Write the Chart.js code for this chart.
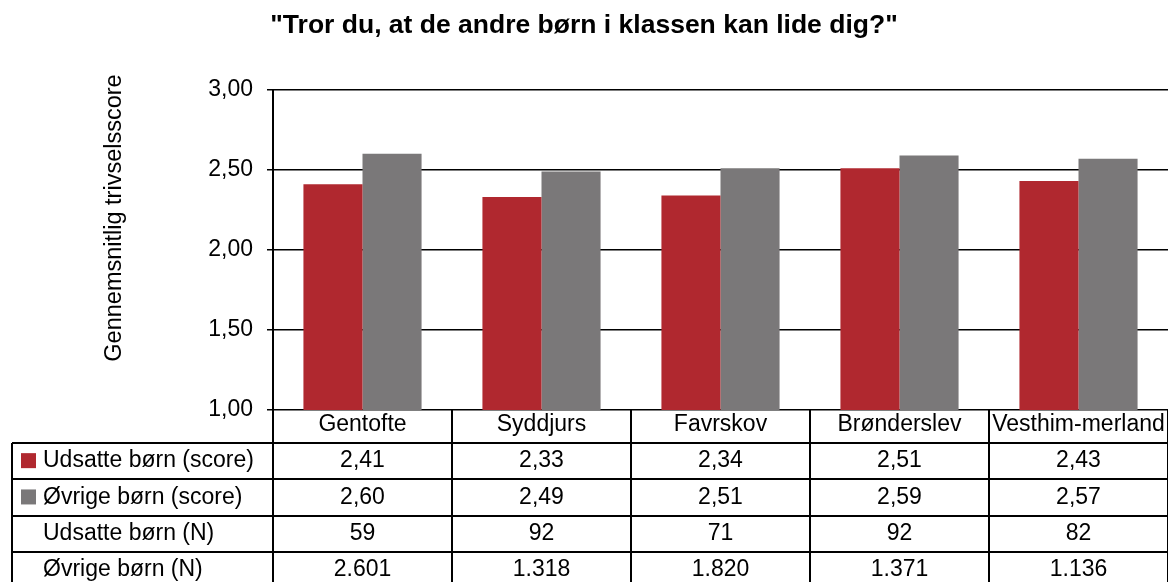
<!DOCTYPE html>
<html lang="da">
<head>
<meta charset="utf-8">
<title>Trivsel</title>
<script src="https://cdn.jsdelivr.net/npm/chart.js@4"></script>
<style>
  html, body { margin: 0; padding: 0; background: #fff; }
  #wrap { width: 1168px; height: 582px; }
</style>
</head>
<body>
<div id="wrap"><canvas id="graf"></canvas></div>
<script>
const kommuner = ['Gentofte', 'Syddjurs', 'Favrskov', 'Brønderslev', 'Vesthim-merland'];
const udsatteScore = [2.41, 2.33, 2.34, 2.51, 2.43];
const oevrigeScore = [2.60, 2.49, 2.51, 2.59, 2.57];
const udsatteN = [59, 92, 71, 92, 82];
const oevrigeN = [2601, 1318, 1820, 1371, 1136];
const yTicks = [1.00, 1.50, 2.00, 2.50, 3.00];

const FONT = "'Liberation Sans', Arial, sans-serif";
const ROED = '#b0282f';
const GRAA = '#7a7879';

const komma = v => v.toFixed(2).replace('.', ',');
const tusind = v => String(v).replace(/\B(?=(\d{3})+(?!\d))/g, '.');

// tabellen under grafen + y-aksens titel
const tabelPlugin = {
  id: 'tabel',
  afterDraw(chart) {
    const ctx = chart.ctx;
    const area = chart.chartArea;
    const xs = chart.scales.x;
    const halv = (xs.getPixelForValue(1) - xs.getPixelForValue(0)) / 2;
    const graenser = kommuner.map((k, i) => xs.getPixelForValue(i) - halv);
    graenser.push(xs.getPixelForValue(kommuner.length - 1) + halv);

    const venstre = 12;
    const foersteRaekke = area.bottom + 33;
    const raekkeH = 36.3;
    const bund = chart.height;

    ctx.save();
    ctx.strokeStyle = '#000';
    ctx.lineWidth = 2;

    // lodrette linjer
    graenser.forEach(x => {
      ctx.beginPath();
      ctx.moveTo(Math.round(x), area.bottom);
      ctx.lineTo(Math.round(x), bund);
      ctx.stroke();
    });
    ctx.beginPath();
    ctx.moveTo(venstre, foersteRaekke);
    ctx.lineTo(venstre, bund);
    ctx.stroke();

    // vandrette linjer
    for (let r = 0; r < 4; r++) {
      const y = Math.round(foersteRaekke + r * raekkeH);
      ctx.beginPath();
      ctx.moveTo(venstre, y);
      ctx.lineTo(graenser[graenser.length - 1], y);
      ctx.stroke();
    }

    const raekker = [
      { navn: 'Udsatte børn (score)', farve: ROED, vaerdier: udsatteScore.map(komma) },
      { navn: 'Øvrige børn (score)', farve: GRAA, vaerdier: oevrigeScore.map(komma) },
      { navn: 'Udsatte børn (N)', farve: null, vaerdier: udsatteN.map(String) },
      { navn: 'Øvrige børn (N)', farve: null, vaerdier: oevrigeN.map(tusind) }
    ];

    ctx.font = '23px ' + FONT;
    ctx.fillStyle = '#000';
    ctx.textBaseline = 'middle';
    raekker.forEach((r, i) => {
      const midt = foersteRaekke + i * raekkeH + raekkeH / 2;
      if (r.farve) {
        ctx.fillStyle = r.farve;
        ctx.fillRect(21, midt - 8, 15, 15);
      }
      ctx.fillStyle = '#000';
      ctx.textAlign = 'left';
      ctx.fillText(r.navn, 43, midt);
      ctx.textAlign = 'center';
      r.vaerdier.forEach((v, k) => {
        ctx.fillText(v, xs.getPixelForValue(k), midt);
      });
    });

    // y-aksens titel
    ctx.translate(115, 218);
    ctx.rotate(-Math.PI / 2);
    ctx.font = '23.5px ' + FONT;
    ctx.textAlign = 'center';
    ctx.fillText('Gennemsnitlig trivselsscore', 0, 0);
    ctx.restore();
  }
};

new Chart(document.getElementById('graf'), {
  type: 'bar',
  data: {
    labels: kommuner,
    datasets: [
      {
        label: 'Udsatte børn (score)',
        data: udsatteScore,
        backgroundColor: ROED,
        categoryPercentage: 0.66,
        barPercentage: 1
      },
      {
        label: 'Øvrige børn (score)',
        data: oevrigeScore,
        backgroundColor: GRAA,
        categoryPercentage: 0.66,
        barPercentage: 1
      }
    ]
  },
  options: {
    responsive: true,
    maintainAspectRatio: false,
    animation: false,
    layout: { padding: { left: 0, right: 0, top: 0, bottom: 0 } },
    plugins: {
      legend: { display: false },
      tooltip: { enabled: false },
      title: {
        display: true,
        text: '"Tror du, at de andre børn i klassen kan lide dig?"',
        color: '#000',
        font: { family: FONT, size: 26.5, weight: 'bold' },
        padding: { top: 10, bottom: 48 }
      }
    },
    scales: {
      x: {
        grid: { display: false, drawTicks: false },
        border: { display: false },
        ticks: {
          color: '#000',
          font: { family: FONT, size: 23 },
          padding: 1,
          autoSkip: false,
          maxRotation: 0
        },
        afterFit(scale) { scale.height = 172; }
      },
      y: {
        min: 1,
        max: 3,
        afterBuildTicks(scale) { scale.ticks = yTicks.map(v => ({ value: v })); },
        grid: { color: '#000', lineWidth: 1.5, tickLength: 6 },
        border: { display: true, color: '#000', width: 2 },
        ticks: {
          color: '#000',
          font: { family: FONT, size: 23 },
          padding: 14,
          callback: v => komma(v)
        },
        afterFit(scale) { scale.width = 273; }
      }
    }
  },
  plugins: [tabelPlugin]
});
</script>
</body>
</html>
